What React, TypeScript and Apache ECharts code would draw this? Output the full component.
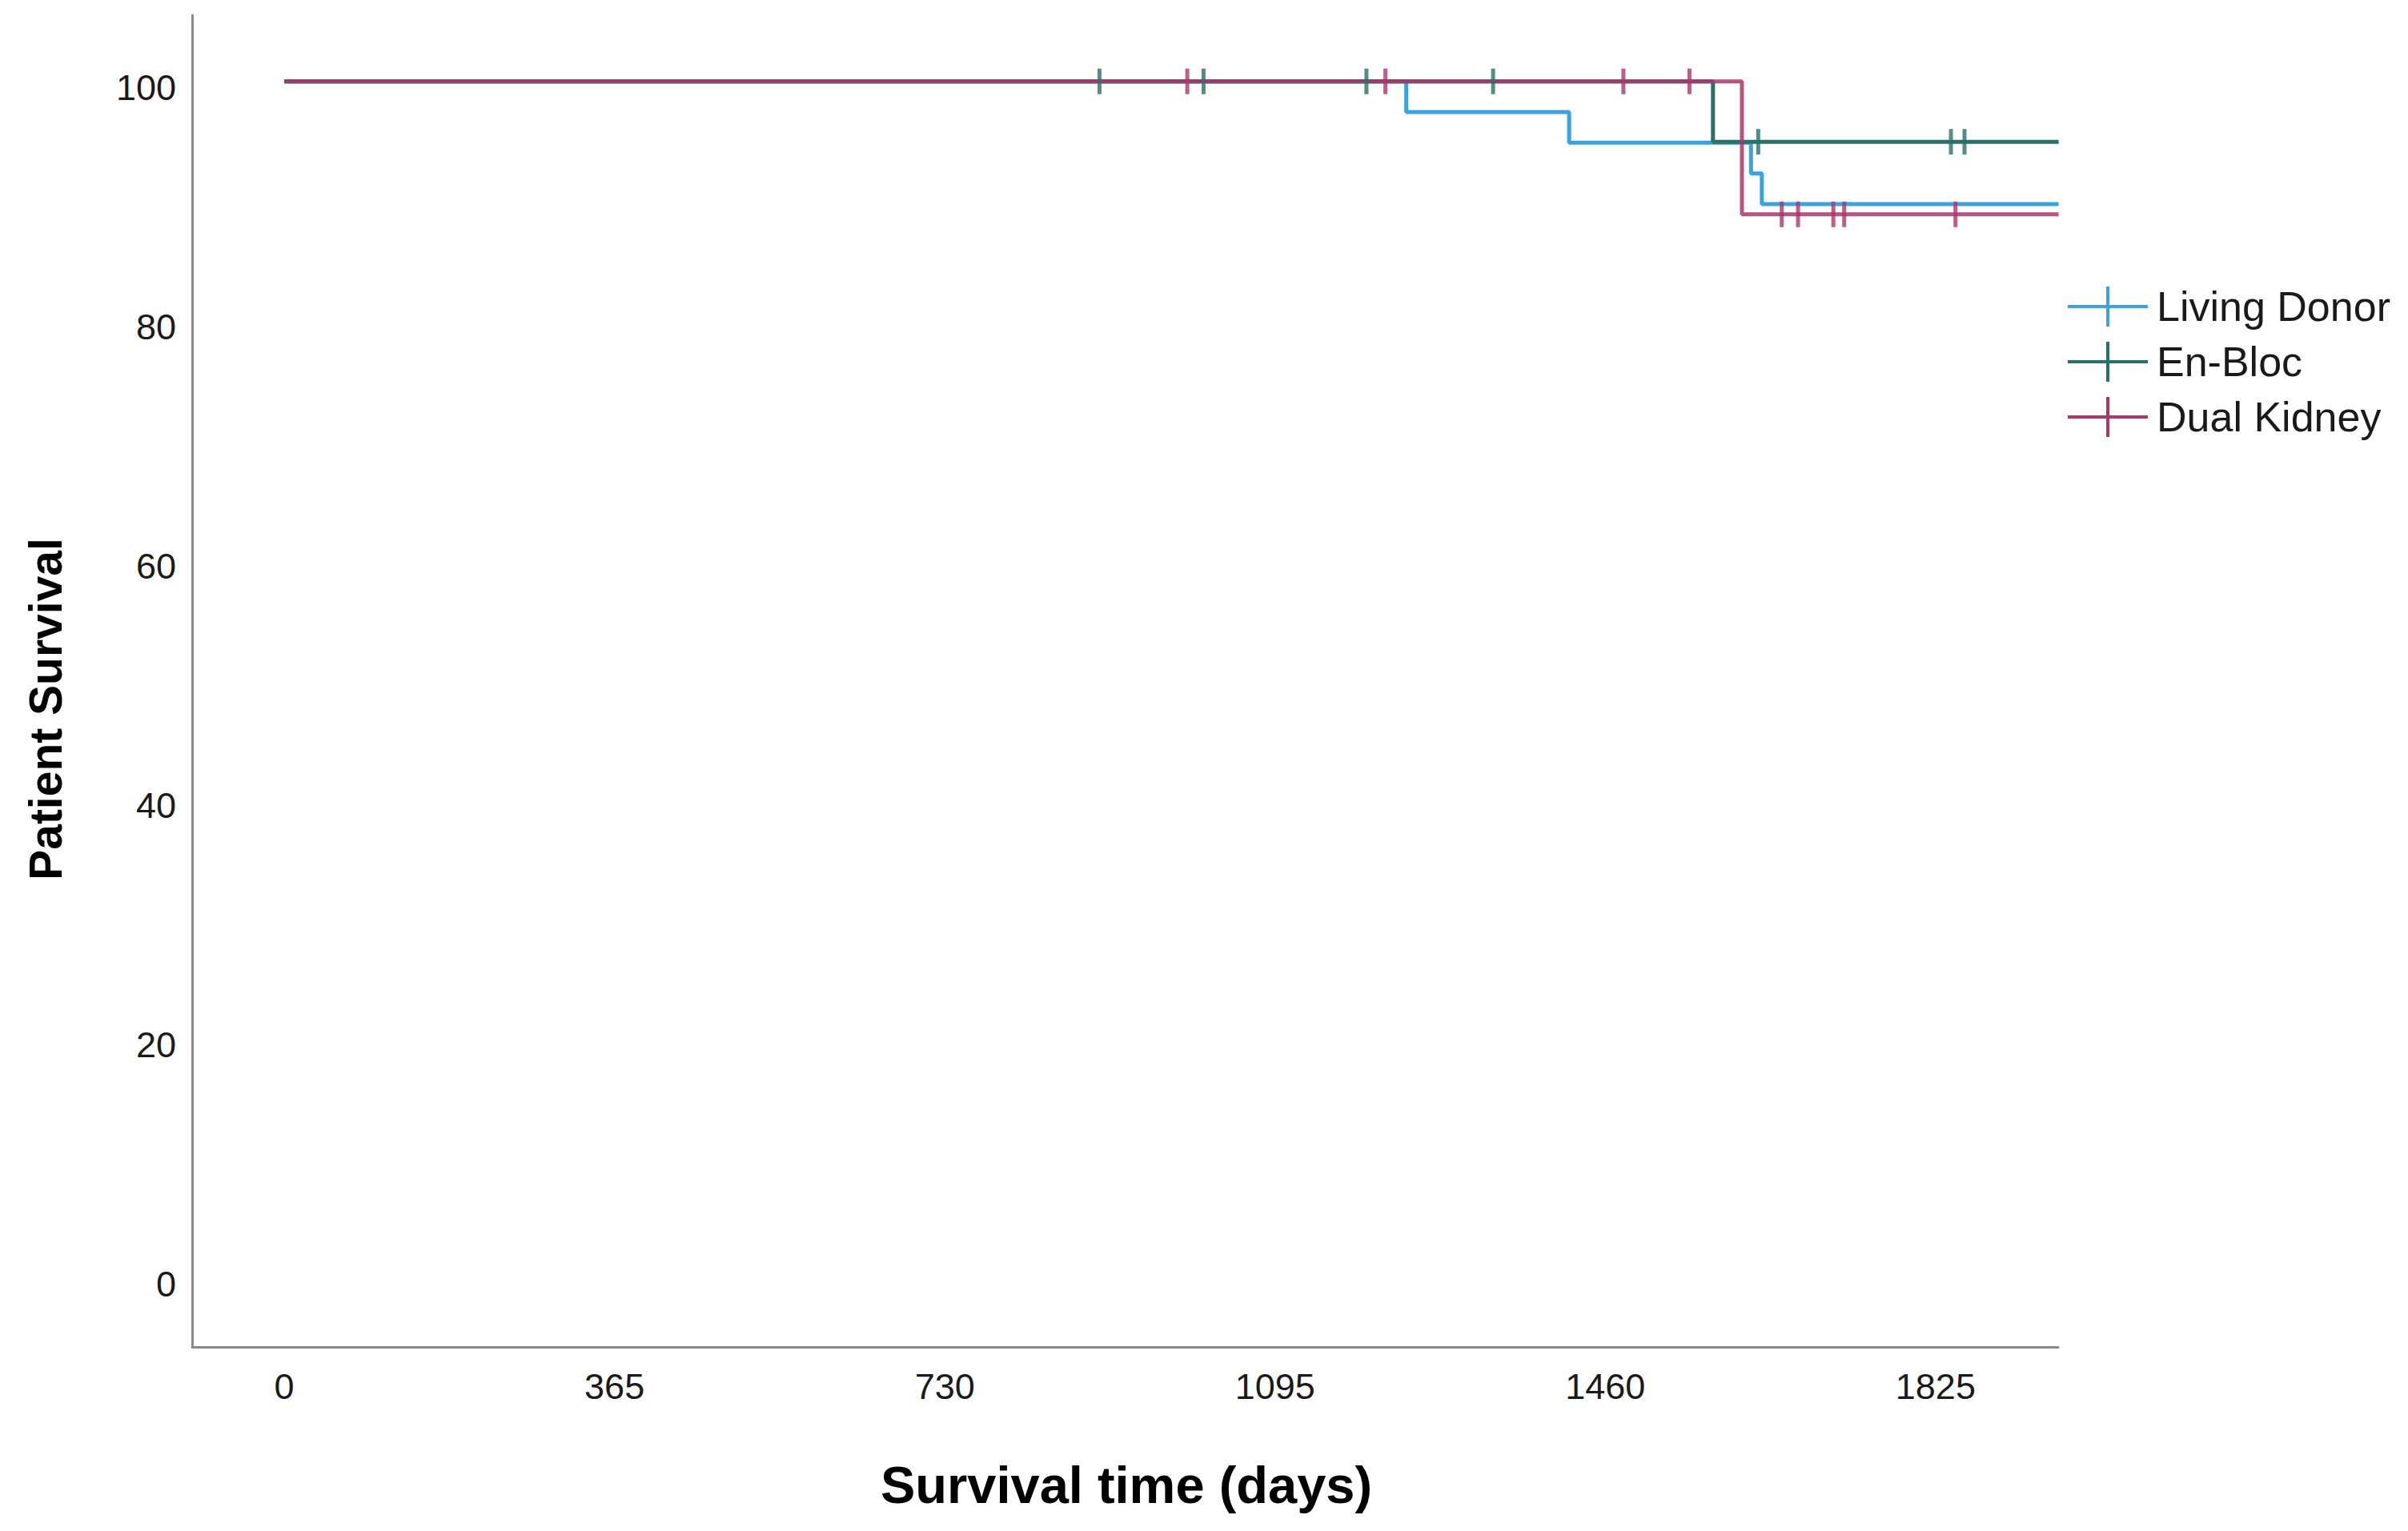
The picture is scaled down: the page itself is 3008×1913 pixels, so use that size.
import React, { useEffect, useRef } from "react";
import * as echarts from "echarts";

// ---- Data ----
const SERIES_NAMES = ["Living Donor", "En-Bloc", "Dual Kidney"];
const SERIES_COLORS = ["#3aa2dc", "#28706a", "#ac356c"];

// Kaplan-Meier step points: times (days) and survival (%)
const LD_TIMES = [0, 1240, 1420, 1621, 1633, 1961];
const LD_SURV = [100, 97.44, 94.87, 92.31, 89.74, 89.74];
const EB_TIMES = [0, 1579, 1961];
const EB_SURV = [100, 94.95, 94.95];
const DK_TIMES = [0, 1611, 1961];
const DK_SURV = [100, 88.89, 88.89];

// Censored observations
const LD_CENSOR_T: number[] = [];
const LD_CENSOR_S: number[] = [];
const EB_CENSOR_T = [901, 1016, 1196, 1336, 1629, 1842, 1857];
const EB_CENSOR_S = [100, 100, 100, 100, 94.95, 94.95, 94.95];
const DK_CENSOR_T = [998, 1217, 1480, 1553, 1655, 1673, 1712, 1724, 1847];
const DK_CENSOR_S = [100, 100, 100, 100, 88.89, 88.89, 88.89, 88.89, 88.89];

const X_TICKS = [0, 365, 730, 1095, 1460, 1825];
const Y_TICKS = [0, 20, 40, 60, 80, 100];

const X_TITLE = "Survival time (days)";
const Y_TITLE = "Patient Survival";

const zip = (a: number[], b: number[]) => a.map((v, i) => [v, b[i]]);

export default function App() {
  const ref = useRef<HTMLDivElement>(null);

  useEffect(() => {
    if (!ref.current) return;
    const chart = echarts.init(ref.current, undefined, { renderer: "svg" });
    const font = "'Liberation Sans', Arial, sans-serif";
    const lines = [
      zip(LD_TIMES, LD_SURV),
      zip(EB_TIMES, EB_SURV),
      zip(DK_TIMES, DK_SURV),
    ];
    const censors = [
      zip(LD_CENSOR_T, LD_CENSOR_S),
      zip(EB_CENSOR_T, EB_CENSOR_S),
      zip(DK_CENSOR_T, DK_CENSOR_S),
    ];
    const series: any[] = [];
    SERIES_NAMES.forEach((name, i) => {
      series.push({
        type: "line",
        name,
        step: "end",
        data: lines[i],
        showSymbol: false,
        symbol: "none",
        lineStyle: { color: SERIES_COLORS[i], width: 5, opacity: i === 2 ? 0.85 : 1 },
        itemStyle: { color: SERIES_COLORS[i] },
        z: 2 + i,
        silent: true,
      });
    });
    SERIES_NAMES.forEach((name, i) => {
      series.push({
        type: "scatter",
        name,
        data: censors[i],
        symbol: "rect",
        symbolSize: [5, 32],
        itemStyle: { color: SERIES_COLORS[i] },
        z: 6 + i,
        silent: true,
      });
    });

    const icon = "path://M0,23H100V27H0Z M48,0H52V50H48Z";

    chart.setOption({
      animation: false,
      backgroundColor: "#ffffff",
      grid: { left: 240, right: 437, top: 19, bottom: 230, containLabel: false },
      xAxis: {
        type: "value",
        min: -101.8,
        max: 1960.5,
        axisLine: { show: true, onZero: false, lineStyle: { color: "#8a8a8a", width: 3 } },
        axisTick: { show: false },
        splitLine: { show: false },
        axisLabel: {
          customValues: X_TICKS,
          formatter: (v: number) => String(v),
          margin: 27,
          fontSize: 45,
          color: "#1a1a1a",
          fontFamily: font,
        },
      },
      yAxis: {
        type: "value",
        min: -5.77,
        max: 105.53,
        axisLine: { show: true, onZero: false, lineStyle: { color: "#8a8a8a", width: 3 } },
        axisTick: { show: false },
        splitLine: { show: false },
        axisLabel: {
          customValues: Y_TICKS,
          formatter: (v: number) => String(v),
          margin: 20,
          fontSize: 45,
          color: "#1a1a1a",
          fontFamily: font,
          verticalAlign: "top",
          lineHeight: 16,
        },
      },
      legend: {
        orient: "vertical",
        left: 2583,
        top: 357,
        itemWidth: 100,
        itemHeight: 50,
        itemGap: 17,
        padding: 0,
        textStyle: { fontSize: 52, color: "#1a1a1a", fontFamily: font, padding: [0, 0, 0, 6] },
        data: SERIES_NAMES.map((name, i) => ({ name, icon, itemStyle: { color: SERIES_COLORS[i] } })),
        selectedMode: false,
      },
      graphic: [
        {
          type: "text",
          x: 1407,
          y: 1855,
          style: {
            text: X_TITLE,
            fontSize: 65,
            fontWeight: "bold",
            fontFamily: font,
            fill: "#000000",
            align: "center",
            verticalAlign: "middle",
          },
        },
        {
          type: "text",
          x: 57,
          y: 886,
          rotation: Math.PI / 2,
          style: {
            text: Y_TITLE,
            fontSize: 57,
            fontWeight: "bold",
            fontFamily: font,
            fill: "#000000",
            align: "center",
            verticalAlign: "middle",
          },
        },
      ],
      series,
    });
    return () => chart.dispose();
  }, []);

  return (
    <div
      ref={ref}
      style={{ position: "fixed", left: 0, top: 0, width: 3008, height: 1913, background: "#fff" }}
    />
  );
}
